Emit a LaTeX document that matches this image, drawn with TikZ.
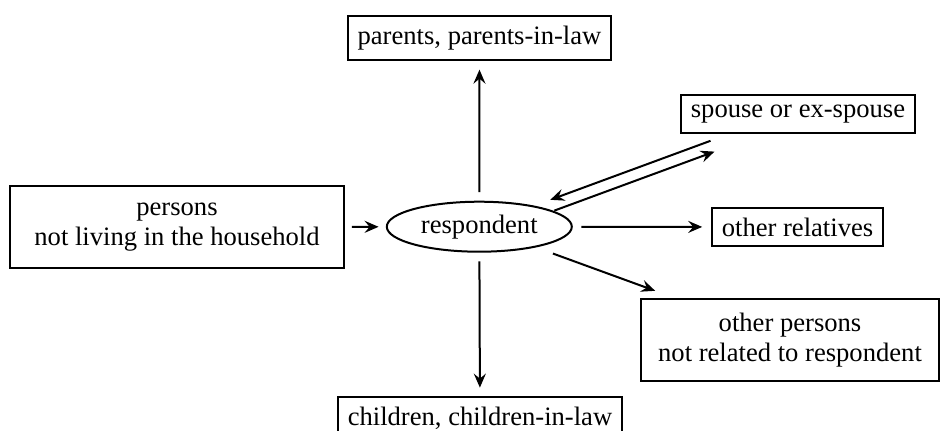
\documentclass[tikz,border=0pt]{standalone}
\usepackage{fontspec}
\setmainfont{Liberation Serif}
\usetikzlibrary{arrows.meta,shapes.geometric,calc}
\tikzstyle{arrow} = [line width=1pt,-{Stealth[length=7pt,width=6pt,inset=2.5pt]},shorten <=4.3pt,shorten >=4.3pt]
\tikzstyle{box} = [draw,line width=1pt,rectangle,inner sep=5pt,align=center]
\tikzstyle{bigbox} = [box,minimum height=41pt]

\begin{document}
\begin{tikzpicture}[x=0.5pt,y=-0.5pt,font=\fontsize{13.3}{14.65}\selectfont]
	% frame of the picture
	\useasboundingbox (0,0) rectangle (941,430);

	% the respondent
	\node[draw,ellipse,line width=1pt,minimum width=92.5pt,minimum height=25pt,inner sep=0pt] (resp) at (479.3,226.7) {respondent};

	% the boxes
	\node[box] (parents) at (479.5,38) {parents, parents-in-law};
	\node[box] (children) at (480,418.5) {children, children-in-law};
	\node[bigbox,minimum width=167pt] (persons) at (177,227) {persons\\not living in the household};
	\node[box] (spouse) at (798,113.7) {spouse or ex-spouse};
	\node[box] (relatives) at (797.5,227) {other relatives};
	\node[bigbox,minimum width=149pt] (others) at (790,340) {other persons\\not related to respondent};

	% ends of the spouse arrows
	\coordinate (spin) at ($(spouse.center)+(-85.5,32.5)$);
	\coordinate (reout) at ($(resp.center)+(73,-21.5)$);

	% Arrows
	\draw[arrow] (resp) -- (parents);
	\draw[arrow] (resp) -- (children);
	\draw[arrow] (resp) -- (relatives);
	\draw[arrow,shorten <=3.4pt,shorten >=3.6pt] (persons) -- (resp);
	\draw[arrow,shorten <=9pt,shorten >=10.5pt] (resp) -- (others);
	\draw[arrow,shorten <=0pt,shorten >=0pt] ([shift={(-2,-5.4)}]spin) -- ([shift={(-2,-5.4)}]reout);
	\draw[arrow,shorten <=0pt,shorten >=0pt] ([shift={(2,5.4)}]reout) -- ([shift={(2,5.4)}]spin);
\end{tikzpicture}
\end{document}
